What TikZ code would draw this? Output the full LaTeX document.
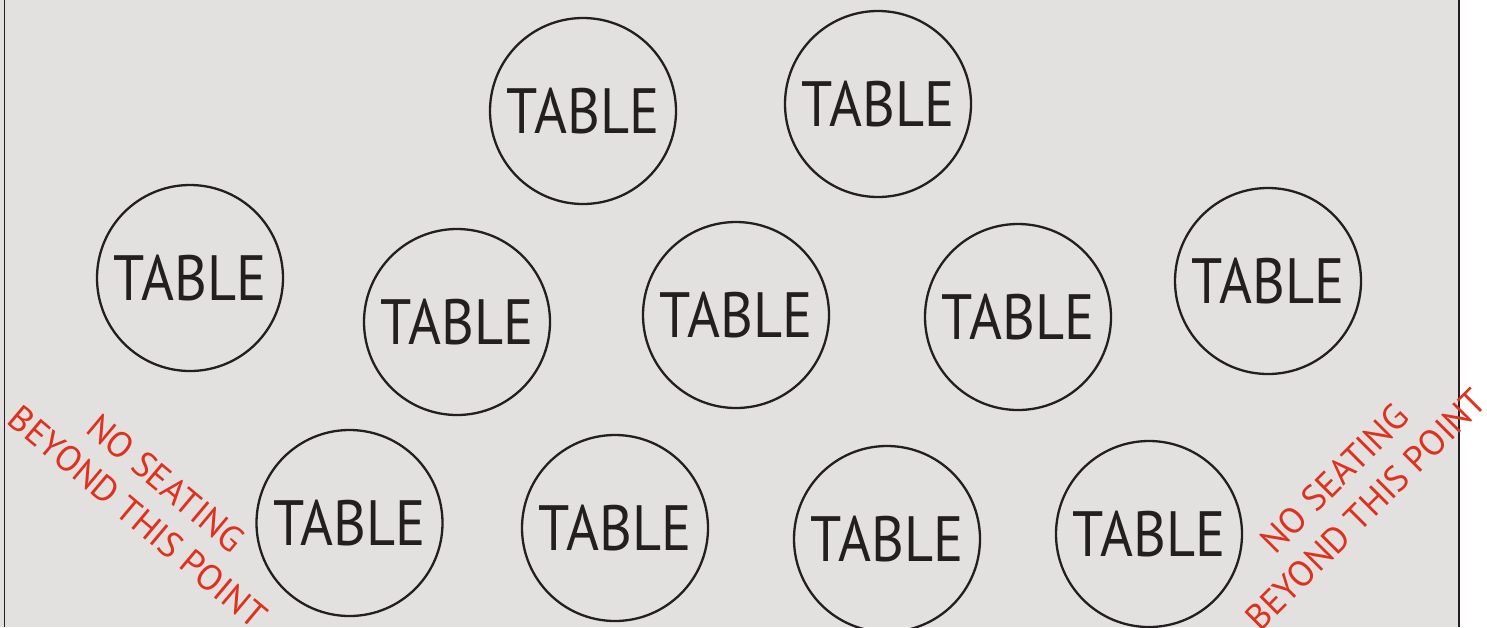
\documentclass[tikz,border=0pt]{standalone}
\usepackage{fontspec}
\setmainfont{PT Sans}
\definecolor{bg}{HTML}{E2E1DF}
\definecolor{ink}{HTML}{231F20}
\definecolor{warn}{HTML}{E0301E}
\newcommand{\tabletext}{\scalebox{0.88}[1]{TABLE}}
\begin{document}
\begin{tikzpicture}[x=1pt,y=-1pt,
  tablebox/.style={circle, draw=ink, line width=2.3pt, minimum size=186pt,
    inner sep=0pt, font=\fontsize{64}{64}\selectfont, text=ink},
  warnbox/.style={align=center, text=warn, font=\fontsize{36}{44}\selectfont,
    inner sep=0pt}]
\useasboundingbox (0,0) rectangle (1487,627);
\fill[bg] (0,0) rectangle (1459,627);
\draw[ink, line width=1.3pt] (4.5,0) -- (4.5,627);
\draw[ink, line width=1.8pt] (1459,0) -- (1459,627);
\node[tablebox] (t1) at (583,111) {\tabletext};
\node[tablebox] (t2) at (878,104) {\tabletext};
\node[tablebox] (t3) at (190,278) {\tabletext};
\node[tablebox] (t4) at (457,322) {\tabletext};
\node[tablebox] (t5) at (736,315) {\tabletext};
\node[tablebox] (t6) at (1018,317) {\tabletext};
\node[tablebox] (t7) at (1268,281) {\tabletext};
\node[tablebox] (t8) at (349.5,523) {\tabletext};
\node[tablebox] (t9) at (615,528) {\tabletext};
\node[tablebox] (t10) at (887,539) {\tabletext};
\node[tablebox] (t11) at (1149,534) {\tabletext};
\node[warnbox, rotate=-40] (w1) at (152,500) {NO SEATING\\BEYOND THIS POINT};
\node[warnbox, rotate=45] (w2) at (1350,494) {NO SEATING\\BEYOND THIS POINT};
\end{tikzpicture}
\end{document}
